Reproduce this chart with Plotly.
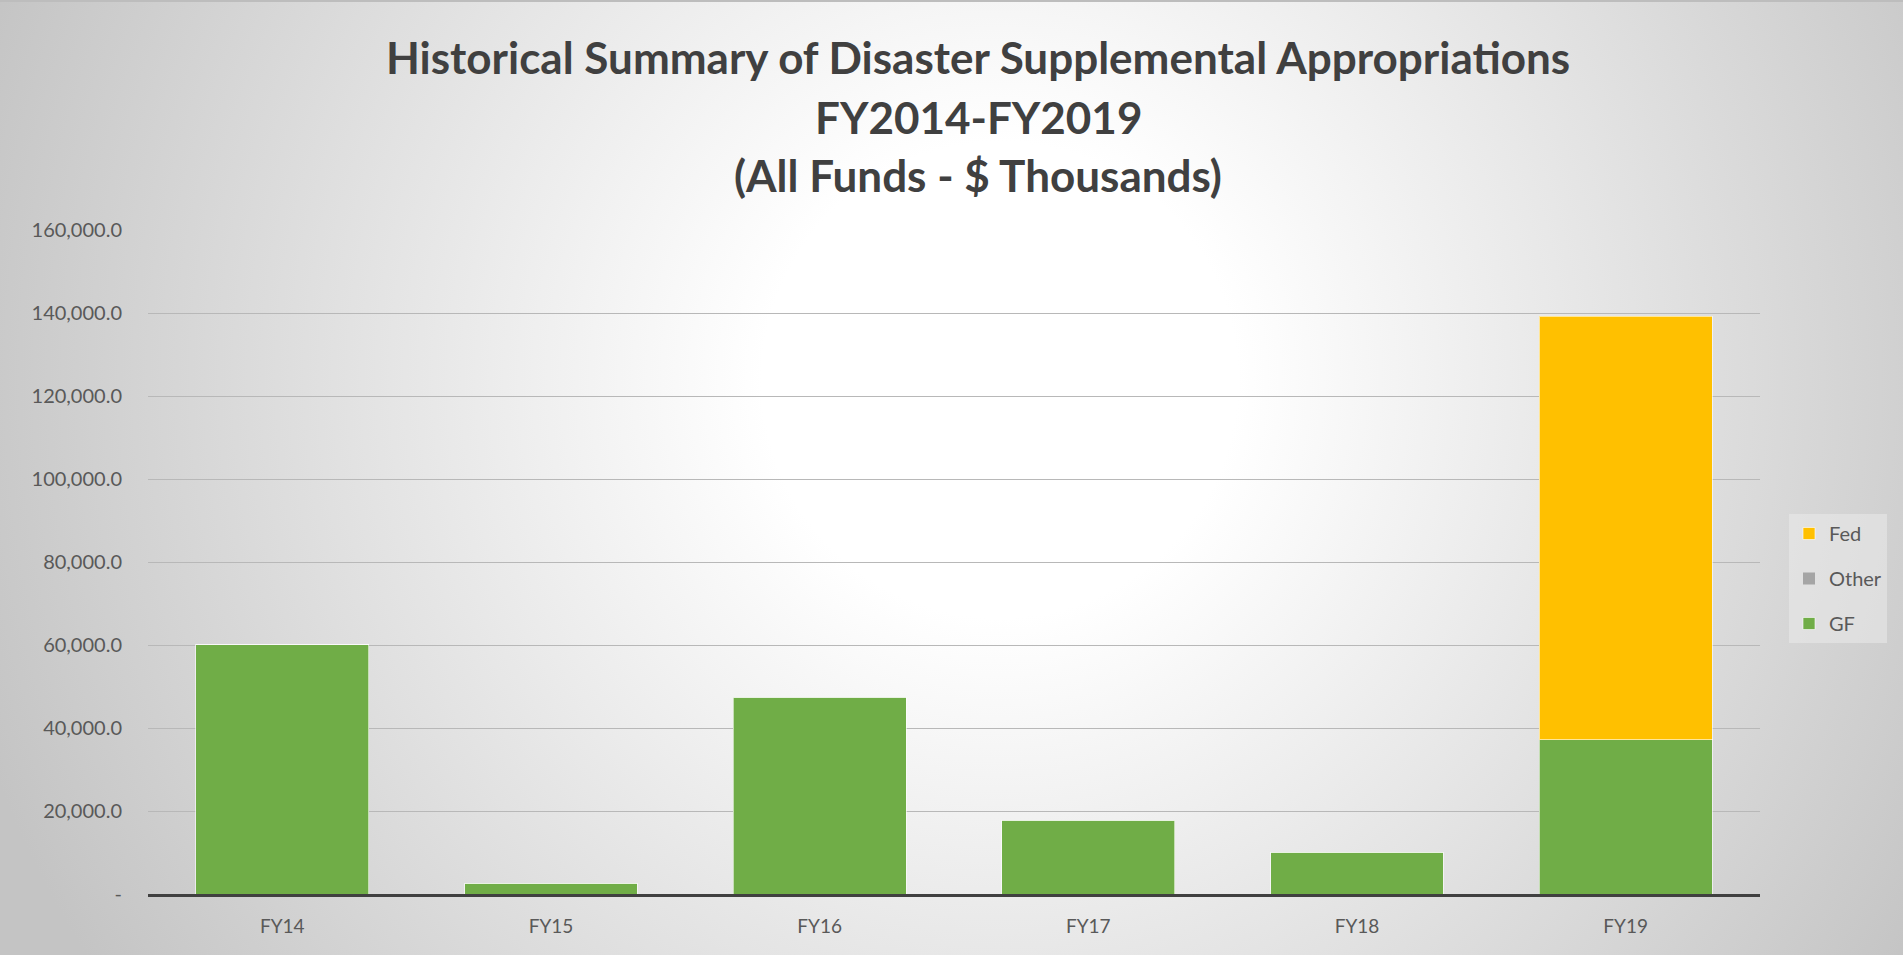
import base64
import plotly.graph_objects as go

# ---- data ----
categories = ["FY14", "FY15", "FY16", "FY17", "FY18", "FY19"]
gf_values = [60100, 2600, 47400, 17800, 10100, 37200]
other_values = [0, 0, 0, 0, 0, 0]
fed_values = [0, 0, 0, 0, 0, 102000]
y_ticks = [0, 20000, 40000, 60000, 80000, 100000, 120000, 140000, 160000]
y_ticktext = ["-" if v == 0 else f"{v:,.1f}" for v in y_ticks]
title_lines = [
    "Historical Summary of Disaster Supplemental Appropriations",
    "FY2014-FY2019",
    "(All Funds - $ Thousands)",
]

W, H = 1903, 955
ML, MR, MT, MB = 148, 143, 230, 61
PW, PH = W - ML - MR, H - MT - MB

# radial gradient background
svg = f'''<svg xmlns="http://www.w3.org/2000/svg" width="{W}" height="{H}" viewBox="0 0 {W} {H}">
<defs><radialGradient id="g" gradientUnits="userSpaceOnUse" cx="1000" cy="380" r="1080">
<stop offset="0" stop-color="#ffffff"/><stop offset="0.22" stop-color="#ffffff"/>
<stop offset="1" stop-color="#c4c4c4"/></radialGradient></defs>
<rect width="{W}" height="{H}" fill="url(#g)"/>
<rect x="0" y="0" width="{W}" height="2" fill="#bdbdbd"/>
</svg>'''
src = "data:image/svg+xml;base64," + base64.b64encode(svg.encode()).decode()

font = "Lato, 'Open Sans', sans-serif"
fig = go.Figure()
fig.add_trace(go.Bar(name="GF", x=categories, y=gf_values, legendrank=3,
                     marker=dict(color="#70ad47", line=dict(color="rgba(255,255,255,0.6)", width=1)), legendgroup="c"))
fig.add_trace(go.Bar(name="Other", x=categories, y=other_values, legendrank=2,
                     marker=dict(color="#a5a5a5", line=dict(width=0)), legendgroup="b"))
fig.add_trace(go.Bar(name="Fed", x=categories, y=fed_values, legendrank=1,
                     marker=dict(color="#ffc000", line=dict(color="rgba(255,255,255,0.6)", width=1)), legendgroup="a"))

annots = []
ys = [57, 117, 175]
for t, yy in zip(title_lines, ys):
    annots.append(dict(text=f"<b>{t}</b>", x=980 / W, xref="paper", xanchor="center",
                       y=(H - MB - yy) / PH, yref="paper", yanchor="middle", showarrow=False,
                       font=dict(family=font, size=44, color="#404040")))

fig.update_layout(
    width=W, height=H, autosize=False,
    margin=dict(l=ML, r=MR, t=MT, b=MB, pad=0),
    paper_bgcolor="rgba(0,0,0,0)", plot_bgcolor="rgba(0,0,0,0)",
    barmode="stack", bargap=0.357,
    annotations=annots,
    images=[dict(source=src, xref="paper", yref="paper", x=-ML / PW, y=1 + MT / PH,
                 sizex=W / PW, sizey=H / PH, xanchor="left", yanchor="top",
                 sizing="stretch", layer="below")],
    legend=dict(x=(1789 - ML) / PW, y=(H - MB - 514) / PH, xanchor="left", yanchor="top",
                traceorder="grouped", tracegroupgap=16,
                bgcolor="rgba(240,240,240,0.45)", borderwidth=0,
                font=dict(family=font, size=20, color="#595959")),
    xaxis=dict(showline=True, linecolor="#404040", linewidth=3, showgrid=False,
               ticks="outside", ticklen=13, tickcolor="rgba(0,0,0,0)",
               tickfont=dict(family=font, size=19, color="#595959")),
    yaxis=dict(range=[0, 160000], tickvals=y_ticks, ticktext=y_ticktext,
               showgrid=True, gridcolor="#b8b8b8", gridwidth=1, zeroline=False,
               showline=False, ticks="outside", ticklen=21, tickcolor="rgba(0,0,0,0)",
               tickfont=dict(family=font, size=20, color="#595959")),
)

fig.write_html("out.html", config={"displayModeBar": False},
               post_script="document.body.style.margin='0';document.body.style.overflow='hidden';")
